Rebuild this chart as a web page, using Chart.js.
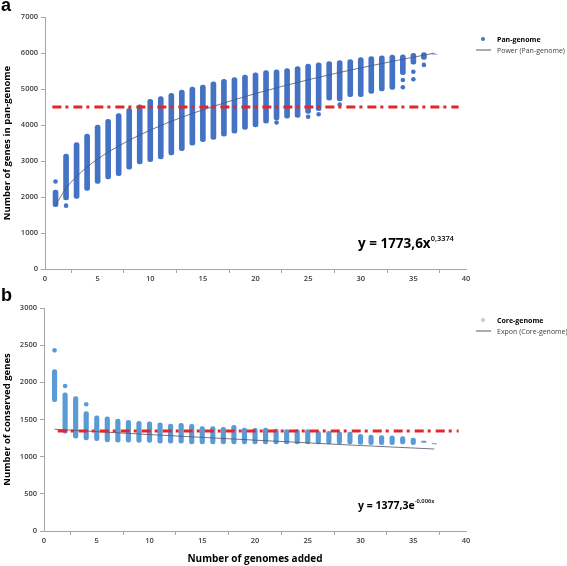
<!DOCTYPE html>
<html>
<head>
<meta charset="utf-8">
<script src="https://cdn.jsdelivr.net/npm/chart.js@4.4.1/dist/chart.umd.min.js"></script>
<style>
  body { margin: 0; background: #fff; }
  .panel { position: relative; width: 567px; height: 283px; }
</style>
</head>
<body>
<div class="panel"><canvas id="pan" width="567" height="283"></canvas></div>
<div class="panel"><canvas id="core" width="567" height="283"></canvas></div>
<script>
// number of genomes added (x positions of the columns)
const genomes = [1,2,3,4,5,6,7,8,9,10,11,12,13,14,15,16,17,18,19,20,21,22,23,24,25,26,27,28,29,30,31,32,33,34,35,36,37];

// pan-genome: range of each column (min / max)
const panMin = [1730,1920,1960,2180,2380,2500,2590,2770,2920,2980,3060,3170,3290,3440,3540,3600,3690,3770,3880,3950,4050,4140,4190,4210,4320,4400,4690,4670,4790,4790,4880,4950,4990,5400,5690,5820,5970];
const panMax = [2190,3190,3510,3750,4000,4160,4320,4460,4560,4710,4790,4880,4970,5050,5110,5200,5270,5320,5390,5450,5510,5530,5570,5620,5690,5730,5760,5790,5820,5870,5900,5920,5940,5950,5990,6010,5970];
// isolated points outside the columns
const panOutX = [1,2,22,25,26,28,34,34,35,35,36];
const panOutY = [2430,1760,4070,4230,4300,4570,5250,5050,5480,5270,5670];
// power trend line  y = 1773,6x^0,3374
const panTrendX = [1,2,3,4,5,6,8,10,12,15,20,25,30,37];
const panTrendY = [1774,2241,2569,2831,3053,3246,3577,3857,4102,4422,4873,5255,5588,5997];
const panRef = 4500;

// core-genome: range of each column
const coreMin = [1740,1315,1250,1225,1215,1200,1195,1195,1190,1190,1180,1180,1180,1170,1170,1170,1170,1170,1170,1170,1170,1170,1170,1170,1170,1170,1170,1170,1170,1165,1160,1160,1160,1170,1160,1190,1170];
const coreMax = [2170,1860,1810,1605,1550,1535,1505,1490,1475,1470,1455,1440,1450,1435,1405,1405,1395,1420,1385,1380,1385,1370,1365,1365,1365,1340,1340,1335,1330,1300,1290,1285,1280,1270,1250,1210,1175];
const coreOutX = [1,2,4];
const coreOutY = [2430,1950,1705];
// exponential trend line  y = 1377,3e^-0,006x
const coreTrendX = [1,10,20,30,37];
const coreTrendY = [1369,1297,1222,1150,1103];
const coreRef = 1345;

const TICK_FONT = { family: 'Open Sans', size: 7.5, weight: '600' };
const TICK_COLOR = '#404040';
const AXIS_COLOR = '#a6a6a6';

function notes(o) {
  return {
    id: 'notes',
    afterDraw(chart) {
      const c = chart.ctx;
      c.save();
      c.fillStyle = '#000';
      c.textBaseline = 'alphabetic';
      c.font = 'bold 18px "Liberation Sans"';
      c.fillText(o.letter, 1, o.letterY);
      // legend
      c.beginPath();
      c.fillStyle = o.markColor;
      c.arc(483, o.legY, 2, 0, Math.PI * 2);
      c.fill();
      c.strokeStyle = '#595959';
      c.lineWidth = 1;
      c.beginPath();
      c.moveTo(476, o.legY + 11);
      c.lineTo(491, o.legY + 11);
      c.stroke();
      c.textBaseline = 'middle';
      c.fillStyle = '#000';
      c.font = 'bold 7px "Open Sans"';
      c.fillText(o.name, 497, o.legY + 1);
      c.fillStyle = '#404040';
      c.font = '7px "Open Sans"';
      c.fillText(o.trendName, 497, o.legY + 12);
      // equation
      c.fillStyle = '#000';
      c.font = 'bold ' + o.eqSize + 'px "Open Sans"';
      c.fillText(o.eq, 358, o.eqY);
      const w = c.measureText(o.eq).width;
      c.font = '600 ' + (o.eqSize * 0.55) + 'px "Open Sans"';
      c.fillText(o.sup, 358 + w, o.eqY - o.eqSize * 0.4);
      c.restore();
    }
  };
}

function makeChart(id, o) {
  const ranges = genomes.map((g, i) => ({ x: g, y: [o.min[i], o.max[i]] }));
  return new Chart(document.getElementById(id), {
    type: 'bar',
    data: {
      datasets: [
        {
          type: 'line',
          data: [{ x: o.refFrom, y: o.ref }, { x: 39.3, y: o.ref }],
          borderColor: '#e3262a',
          borderWidth: 3,
          borderDash: [9, 4, 3, 5],
          pointRadius: 0,
          order: 0
        },
        {
          type: 'line',
          data: o.trendX.map((x, i) => ({ x: x, y: o.trendY[i] })),
          borderColor: '#4d5564',
          borderWidth: 0.8,
          pointRadius: 0,
          cubicInterpolationMode: 'monotone',
          order: 1
        },
        {
          type: 'scatter',
          data: o.outX.map((x, i) => ({ x: x, y: o.outY[i] })),
          backgroundColor: o.color,
          borderWidth: 0,
          pointRadius: 2.3,
          order: 2
        },
        {
          data: ranges,
          backgroundColor: o.color,
          barThickness: o.barW,
          borderRadius: 3,
          borderSkipped: false,
          order: 3
        }
      ]
    },
    options: {
      responsive: false,
      animation: false,
      layout: { padding: { top: o.top, right: 101, left: 0, bottom: 0 } },
      plugins: { legend: { display: false }, tooltip: { enabled: false } },
      scales: {
        x: {
          type: 'linear', min: 0, max: 40, offset: false,
          ticks: { stepSize: 5, font: TICK_FONT, color: TICK_COLOR, padding: 1, maxRotation: 0 },
          grid: { drawOnChartArea: false, tickLength: 4, color: AXIS_COLOR },
          border: { color: AXIS_COLOR },
          title: {
            display: !!o.xTitle, text: o.xTitle || '',
            font: { family: 'Open Sans', size: 10, weight: 'bold' }, color: '#000',
            padding: { top: 0, bottom: 1 }
          },
          afterFit: s => { s.height = o.xH; }
        },
        y: {
          min: 0, max: o.yMax,
          ticks: { stepSize: o.yStep, font: TICK_FONT, color: TICK_COLOR, padding: 3, format: { useGrouping: false } },
          grid: { drawOnChartArea: false, tickLength: 4, color: AXIS_COLOR },
          border: { color: AXIS_COLOR },
          title: {
            display: true, text: o.yTitle,
            font: { family: 'Open Sans', size: 9.5, weight: 'bold' }, color: '#000',
            padding: { top: 2, bottom: 0 }
          },
          afterFit: s => { s.width = o.yW; }
        }
      }
    },
    plugins: [notes(o)]
  });
}

makeChart('pan', {
  min: panMin, max: panMax, outX: panOutX, outY: panOutY,
  trendX: panTrendX, trendY: panTrendY, ref: panRef, refFrom: 0.7,
  color: '#4472c4', barW: 5, yMax: 7000, yStep: 1000,
  yTitle: 'Number of genes in pan-genome', xTitle: null,
  top: 17, xH: 14, yW: 45,
  letter: 'a', letterY: 11,
  markColor: '#4472c4', legY: 39, name: 'Pan-genome', trendName: 'Power (Pan-genome)',
  eq: 'y = 1773,6x', sup: '0,3374', eqSize: 13.5, eqY: 244
});

makeChart('core', {
  min: coreMin, max: coreMax, outX: coreOutX, outY: coreOutY,
  trendX: coreTrendX, trendY: coreTrendY, ref: coreRef, refFrom: 1.3,
  color: '#5b9bd5', barW: 4.5, yMax: 3000, yStep: 500,
  yTitle: 'Number of conserved genes', xTitle: 'Number of genomes added',
  top: 25, xH: 35, yW: 44,
  letter: 'b', letterY: 18,
  markColor: '#b9cde6', legY: 37, name: 'Core-genome', trendName: 'Expon (Core-genome)',
  eq: 'y = 1377,3e', sup: '-0,006x', eqSize: 10.5, eqY: 223
});
</script>
</body>
</html>
